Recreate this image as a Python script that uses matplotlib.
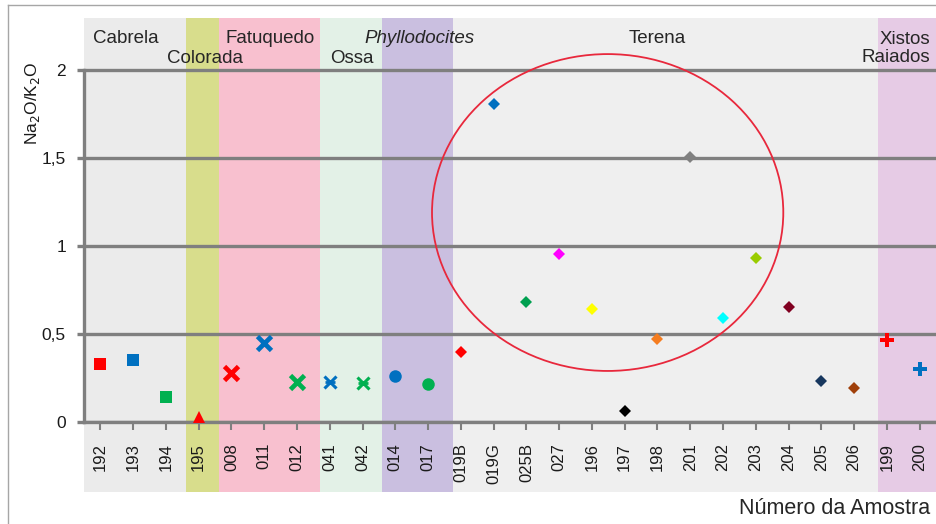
import matplotlib
matplotlib.use('Agg')
import matplotlib.pyplot as plt
from matplotlib.patches import Ellipse
from matplotlib.lines import Line2D

plt.rcParams['font.family'] = ['Liberation Sans', 'DejaVu Sans']

# samples and Na2O/K2O ratio
samples = ['192', '193', '194', '195', '008', '011', '012', '041', '042',
           '014', '017', '019B', '019G', '025B', '027', '196', '197', '198',
           '201', '202', '203', '204', '205', '206', '199', '200']
ratio = [0.33, 0.35, 0.14, 0.03, 0.28, 0.45, 0.23, 0.23, 0.22,
         0.26, 0.215, 0.40, 1.805, 0.68, 0.955, 0.64, 0.06, 0.47,
         1.505, 0.59, 0.93, 0.655, 0.235, 0.195, 0.465, 0.30]

# units and their edges along the sample axis
units = ['Cabrela', 'Colorada', 'Fatuquedo', 'Ossa', 'Phyllodocites',
         'Terena', 'Xistos\nRaiados']
unit_edges = [-0.5, 2.61, 3.62, 6.70, 8.60, 10.76, 23.74, 25.5]

yticks = [0, 0.5, 1, 1.5, 2]
ytick_labels = ['0', '0,5', '1', '1,5', '2']

# styles
band_colors = ['#ebebeb', '#d8dd8c', '#f8c0cf', '#e3f1e7', '#cabfe0',
               '#efefef', '#e6cbe5']
label_x = [-0.22, 3.2, 5.17, 7.67, 9.74, 17.0, 25.33]
label_y = [2.18, 2.065, 2.18, 2.065, 2.18, 2.18, 2.12]
label_ha = ['left', 'center', 'center', 'center', 'center', 'center', 'right']

pt_colors = ['#ff0000', '#0070c0', '#00b050', '#ff0000', '#ff0000', '#0070c0',
             '#00b050', '#0070c0', '#00b050', '#0070c0', '#00b050', '#ff0000',
             '#0070c0', '#00a050', '#ff00ff', '#ffff00', '#000000', '#f57d20',
             '#808080', '#00ffff', '#99cc00', '#800020', '#17375e', '#a0400a',
             '#ff0000', '#0070c0']
pt_markers = ['s', 's', 's', '^', 'x', 'x', 'x', 'star', 'star', 'o', 'o'] + \
             ['D'] * 13 + ['P', 'P']

fig = plt.figure(figsize=(9.36, 5.24), dpi=100)
ax = fig.add_axes([84 / 936, 102 / 524, 852 / 936, 404 / 524])
ax.set_xlim(-0.5, 25.5)
ax.set_ylim(0, 2.295)
ax.set_facecolor('none')

# background bands (reach down behind the tick labels)
for k, c in enumerate(band_colors):
    ax.axvspan(unit_edges[k], unit_edges[k + 1], ymin=-70 / 404, ymax=1,
               color=c, lw=0, zorder=0, clip_on=False)
for name, x, y, ha in zip(units, label_x, label_y, label_ha):
    style = 'italic' if name == 'Phyllodocites' else 'normal'
    ax.text(x, y, name, ha=ha, va='center', fontsize=13.5, color='#262626',
            style=style, linespacing=1.1)

gray = '#7f7f7f'
ax.set_yticks(yticks)
ax.set_yticklabels(ytick_labels, fontsize=12.5, color='#1a1a1a')
ax.grid(axis='y', color=gray, lw=2.4, zorder=1)
ax.set_xticks(range(len(samples)))
ax.set_xticklabels(samples, rotation=90, fontsize=12, color='#1a1a1a')
ax.tick_params(axis='y', direction='out', length=5, width=2.4, color=gray, pad=8)
ax.tick_params(axis='x', direction='out', length=6, width=1.5, color=gray, pad=9)
for s in ['top', 'right']:
    ax.spines[s].set_visible(False)
ax.spines['left'].set_bounds(0, 2)
ax.spines['left'].set_color(gray)
ax.spines['left'].set_linewidth(2.4)
ax.spines['bottom'].set_color(gray)
ax.spines['bottom'].set_linewidth(2.4)

for i, (v, m, c) in enumerate(zip(ratio, pt_markers, pt_colors)):
    if m == 'x':
        ax.plot(i, v, marker='x', ms=10, mew=3.4, color=c, zorder=3, clip_on=False)
    elif m == 'star':
        ax.plot(i, v, marker='x', ms=8, mew=2.2, color=c, zorder=3, clip_on=False)
        ax.plot(i, v, marker='_', ms=7, mew=2.0, color=c, zorder=3, clip_on=False)
    elif m == 'D':
        ax.plot(i, v, marker='D', ms=6, mew=0, color=c, zorder=3, clip_on=False)
    elif m == 'P':
        ax.plot(i, v, marker='P', ms=10, mew=0, color=c, zorder=3, clip_on=False)
    elif m == '^':
        ax.plot(i, v, marker='^', ms=9, mew=0, color=c, zorder=3, clip_on=False)
    else:
        ax.plot(i, v, marker=m, ms=9, mew=0, color=c, zorder=3, clip_on=False)

ax.add_patch(Ellipse((15.48, 1.19), 10.72, 1.8, fill=False, ec='#e8283c',
                     lw=1.3, zorder=4))

ax.set_ylabel(r'Na$_2$O/K$_2$O', fontsize=12.5, color='#1a1a1a')
ax.yaxis.set_label_coords(-42 / 852, 0.79)
fig.text(930 / 936, 1 - 508 / 524, 'Número da Amostra', ha='right',
         va='center', fontsize=15.5, color='#262626')

# outer frame
fig.add_artist(Line2D([8 / 936, 1], [1 - 5 / 524, 1 - 5 / 524], color='#a6a6a6', lw=1))
fig.add_artist(Line2D([8 / 936, 8 / 936], [0, 1 - 5 / 524], color='#a6a6a6', lw=1))

fig.savefig('out.png', dpi=100)
